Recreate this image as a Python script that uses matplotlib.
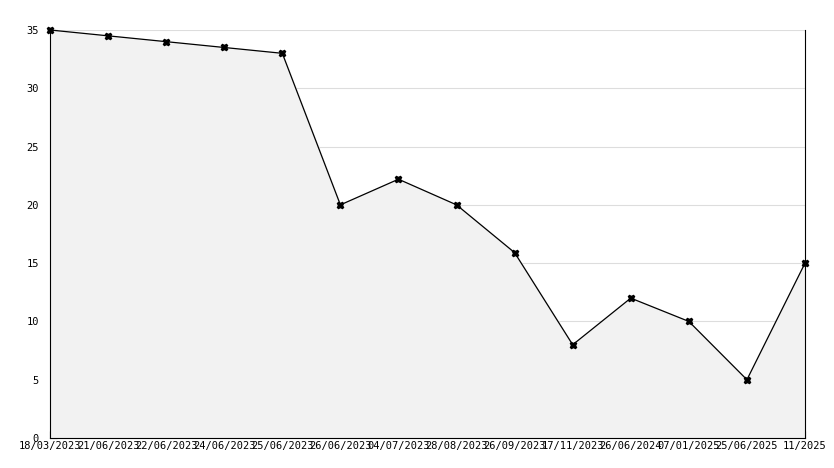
import matplotlib.pyplot as plt
from matplotlib.ticker import MultipleLocator

dates = ["18/03/2023", "21/06/2023", "22/06/2023", "24/06/2023", "25/06/2023",
         "26/06/2023", "04/07/2023", "28/08/2023", "26/09/2023", "17/11/2023",
         "26/06/2024", "07/01/2025", "25/06/2025", "11/2025"]
values = [35, 34.5, 34, 33.5, 33, 20, 22.2, 20, 15.9, 8, 12, 10, 5, 15]

fig = plt.figure(figsize=(8.34, 4.68), dpi=100)
ax = fig.add_axes([50 / 834, 30 / 468, 755 / 834, 408 / 468])

x = list(range(len(values)))
ax.fill_between(x, values, 0, color="#f2f2f2", zorder=1)
ax.plot(x, values, color="black", lw=0.9, marker="X", ms=4.5, zorder=3, clip_on=False)

ax.set_xlim(0, len(values) - 1)
ax.set_ylim(0, 35)
ax.set_xticks(x)
ax.set_xticklabels(dates)
ax.yaxis.set_major_locator(MultipleLocator(5))
ax.yaxis.set_minor_locator(MultipleLocator(1))
ax.grid(axis="y", color="#dddddd", lw=0.8, zorder=0)
ax.set_axisbelow(True)

ax.spines["top"].set_visible(False)
ax.tick_params(axis="both", direction="in", labelsize=7.5, length=5)
ax.tick_params(axis="y", which="minor", direction="in", length=3)
for lab in ax.get_xticklabels() + ax.get_yticklabels():
    lab.set_family("DejaVu Sans Mono")
ax.tick_params(axis="x", pad=2)
ax.tick_params(axis="y", pad=8)

fig.savefig("out.png")
